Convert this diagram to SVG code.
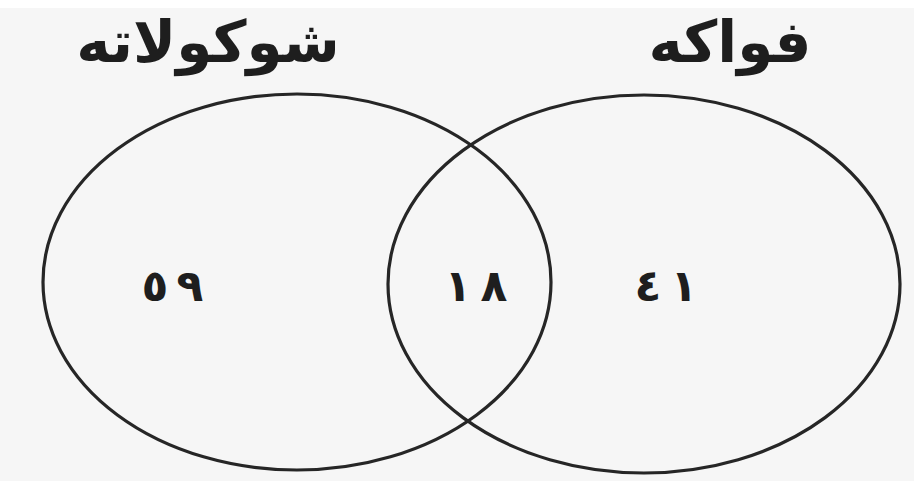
<svg xmlns="http://www.w3.org/2000/svg" width="914" height="481" viewBox="0 0 914 481">
<style>
.set{fill:none;stroke:#262626;stroke-width:3.2}
.lbl{font-family:"DejaVu Sans","Noto Sans",sans-serif;font-weight:bold;fill:#1e1e1e;text-anchor:middle}
.t{font-size:58px}
.n{font-size:44px}
</style>
<rect x="0" y="0" width="914" height="481" fill="#f6f6f6"/>
<rect x="0" y="0" width="914" height="8" fill="#ffffff"/>
<g id="chocolate">
<ellipse class="set" cx="297" cy="282" rx="254" ry="188"/>
<text class="lbl t" x="208" y="62" direction="rtl">شوكولاته</text>
</g>
<g id="fruit">
<ellipse class="set" cx="644" cy="284" rx="256" ry="189"/>
<text class="lbl t" x="730" y="62" direction="rtl">فواكه</text>
</g>
<g id="counts">
<text class="lbl n" x="172" y="301"><tspan x="155">٥</tspan><tspan x="190">٩</tspan></text>
<text class="lbl n" x="477" y="301"><tspan x="458">١</tspan><tspan x="494">٨</tspan></text>
<text class="lbl n" x="665" y="301"><tspan x="648">٤</tspan><tspan x="684">١</tspan></text>
</g>
<g id="connectors"></g>
</svg>
